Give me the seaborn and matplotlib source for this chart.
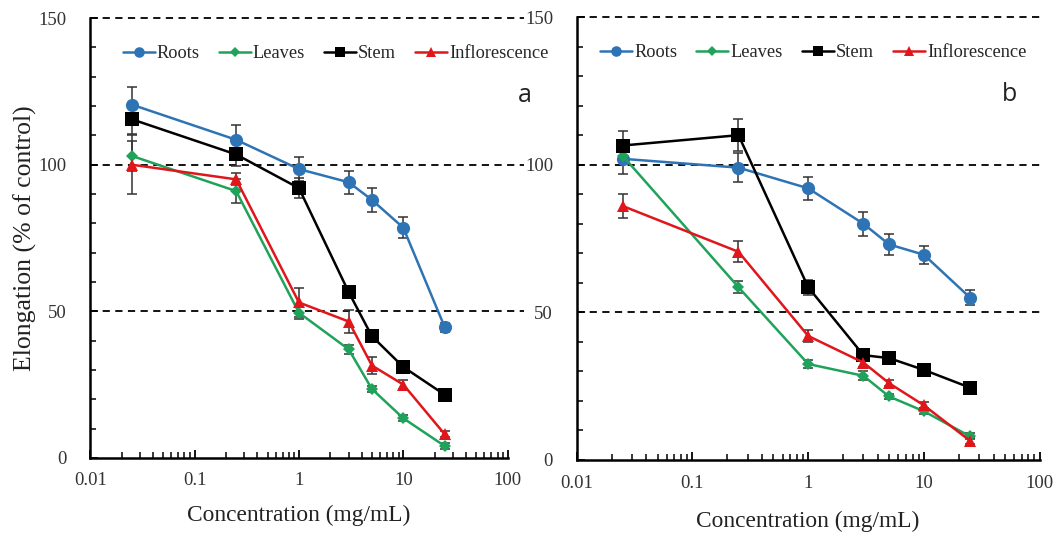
import numpy as np
import pandas as pd
import matplotlib.pyplot as plt
import seaborn as sns
from matplotlib.ticker import FixedLocator, LogLocator, NullFormatter, MultipleLocator

sns.set_style('ticks')
plt.rcParams['font.family'] = ['Liberation Serif', 'DejaVu Serif']

conc = [0.025, 0.25, 1, 3, 5, 10, 25]
organs = ['Roots', 'Leaves', 'Stem', 'Inflorescence']

# panel a
a_roots = [120.5, 108.5, 98.5, 94, 88, 78.5, 44.5]
a_roots_err = [6, 5, 4, 4, 4, 3.5, 1.5]
a_leaves = [103, 91, 49.5, 37, 23.5, 13.5, 4]
a_leaves_err = [5, 4, 2, 1.5, 1, 1, 1]
a_stem = [115.5, 103.5, 92, 56.5, 41.5, 31, 21.5]
a_stem_err = [5, 4, 3.5, 2, 1, 1, 1]
a_infl = [100, 95, 53, 46.5, 31.5, 25, 8]
a_infl_err = [10, 2, 5, 4, 3, 1.5, 1]

# panel b
b_roots = [102, 99, 92, 80, 73, 69.5, 55]
b_roots_err = [5, 5, 4, 4, 3.5, 3, 2.5]
b_leaves = [103, 58.5, 32.5, 28.5, 21.5, 16.5, 8]
b_leaves_err = [2, 2, 1.5, 1.5, 1, 1, 1]
b_stem = [106.5, 110, 58.5, 35.5, 34.5, 30.5, 24.5]
b_stem_err = [5, 5.5, 2.5, 1, 1, 1, 1]
b_infl = [86, 70.5, 42, 33, 26, 18.5, 6.5]
b_infl_err = [4, 3.5, 2, 1.5, 1, 1, 1]

colors = {'Roots': '#2E74B5', 'Leaves': '#1FA35A', 'Stem': '#000000', 'Inflorescence': '#E0161B'}
markers = {'Roots': 'o', 'Leaves': 'D', 'Stem': 's', 'Inflorescence': '^'}
msizes = {'Roots': 9.5, 'Leaves': 6.5, 'Stem': 9.5, 'Inflorescence': 9}

rows = []
for panel, vals in [('a', [(a_roots, a_roots_err), (a_leaves, a_leaves_err), (a_stem, a_stem_err), (a_infl, a_infl_err)]),
                    ('b', [(b_roots, b_roots_err), (b_leaves, b_leaves_err), (b_stem, b_stem_err), (b_infl, b_infl_err)])]:
    for organ, (v, e) in zip(organs, vals):
        for c, y, err in zip(conc, v, e):
            rows.append({'panel': panel, 'organ': organ, 'conc': c, 'value': y, 'err': err})
df = pd.DataFrame(rows)

fig = plt.figure(figsize=(10.62, 5.33), dpi=100)
ax_a = fig.add_axes([0.085, 0.141, 0.393, 0.825])
ax_b = fig.add_axes([0.543, 0.137, 0.436, 0.831])

for ax, panel, ext in [(ax_a, 'a', 1.04), (ax_b, 'b', 1.01)]:
    d = df[df['panel'] == panel]
    for yy in [50, 100, 150]:
        ax.axhline(yy, xmin=0, xmax=ext, color='black', lw=1.3, dashes=(4, 3), clip_on=False, zorder=1)
    for organ in organs:
        s = d[d['organ'] == organ]
        ax.errorbar(s['conc'], s['value'], yerr=s['err'], fmt='none', ecolor='#333333',
                    elinewidth=1.1, capsize=3.5, capthick=1.1, zorder=2)
    for organ in organs:
        s = d[d['organ'] == organ]
        sns.lineplot(data=s, x='conc', y='value', ax=ax, color=colors[organ], marker=markers[organ],
                     markersize=msizes[organ], markeredgewidth=0, linewidth=1.8, label=organ, zorder=3)

    ax.set_xscale('log')
    ax.set_xlim(0.01, 100)
    ax.set_ylim(0, 150)
    ax.xaxis.set_major_locator(FixedLocator([0.01, 0.1, 1, 10, 100]))
    ax.set_xticklabels(['0.01', '0.1', '1', '10', '100'])
    ax.xaxis.set_minor_locator(LogLocator(base=10, subs=np.arange(2, 10)))
    ax.xaxis.set_minor_formatter(NullFormatter())
    ax.yaxis.set_major_locator(FixedLocator([0, 50, 100, 150]))
    ax.yaxis.set_minor_locator(MultipleLocator(10))
    ax.tick_params(axis='both', which='both', direction='in', color='black')
    ax.tick_params(axis='both', which='major', length=6, width=1.3, labelsize=13.5, labelcolor='#333333')
    ax.tick_params(axis='x', which='major', pad=10.5)
    ax.tick_params(axis='y', which='major', pad=17)
    ax.tick_params(axis='both', which='minor', length=4, width=1.1)
    for side in ['top', 'right']:
        ax.spines[side].set_visible(False)
    for side in ['left', 'bottom']:
        ax.spines[side].set_linewidth(1.8)
        ax.spines[side].set_color('black')
    ax.set_xlabel('Concentration (mg/mL)', fontsize=16.8, color='#222222',
                  labelpad=11 if panel == 'a' else 14)
    ax.set_ylabel('')
    ax.legend(loc='upper left', bbox_to_anchor=(0.06, 0.955) if panel == 'a' else (0.035, 0.955),
              ncol=4, frameon=False, fontsize=13.2, handlelength=1.75, handletextpad=0.1,
              columnspacing=1.05, borderaxespad=0, markerscale=0.8)
    ax.text(1.04 if panel == 'a' else 0.935, 0.825, panel, transform=ax.transAxes,
            fontsize=18, family='Open Sans', ha='center', va='center', color='#222222')

ax_a.set_ylabel('Elongation (% of control)', fontsize=18.5, color='#222222', labelpad=1)

fig.savefig('out.png', dpi=100)
